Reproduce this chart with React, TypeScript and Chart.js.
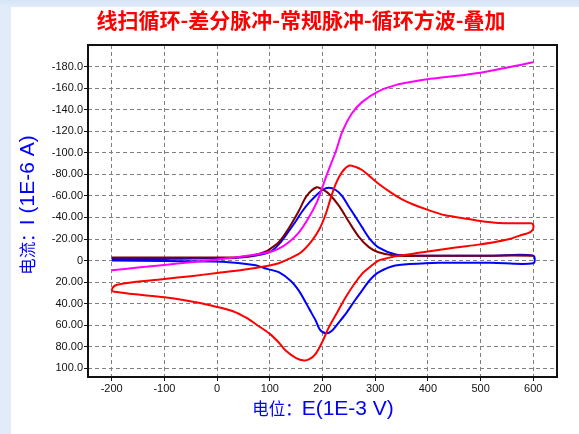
import React, { useEffect, useRef } from 'react';
import { Chart, registerables } from 'chart.js';

Chart.register(...registerables);

const TITLE = '线扫循环-差分脉冲-常规脉冲-循环方波-叠加';
const X_TITLE_CN = '电位：';
const X_TITLE_EN = 'E(1E-3 V)';
const Y_TITLE_CN = '电流：';
const Y_TITLE_EN = 'I (1E-6 A)';

const xTickValues = [-200, -100, 0, 100, 200, 300, 400, 500, 600];
const yTickValues = [-180, -160, -140, -120, -100, -80, -60, -40, -20, 0, 20, 40, 60, 80, 100];
const yTickLabels = ['-180.0', '-160.0', '-140.0', '-120.0', '-100.0', '-80.00', '-60.00', '-40.00', '-20.00', '0', '20.00', '40.00', '60.00', '80.00', '100.0'];

// Linear sweep (magenta)
const magentaE = [-200, -150, -100, -50, 0, 50, 100, 117, 136, 155, 174, 190, 199, 210, 225, 238, 255, 275, 306, 340, 370, 395, 430, 465, 496, 530, 560, 580, 600];
const magentaI = [9, 6.5, 4, 1.5, -1, -4, -8, -11, -17, -26, -40, -55, -67, -82, -101, -120, -136, -147, -157, -163, -166, -168, -170, -172, -174, -177, -180, -182, -184];

// Differential pulse (dark red)
const brownE = [-200, -100, 0, 40, 70, 95, 104, 117, 136, 155, 170, 189, 200, 212, 231, 250, 269, 288, 306, 338, 380, 450, 520, 600];
const brownI = [-2.8, -2.8, -2.8, -3.2, -5, -9, -12, -17, -30, -46, -60, -68, -66, -62, -51, -36, -22, -12.5, -7.7, -4.6, -4.4, -4.5, -4.6, -4.6];

// Cyclic voltammetry (blue): forward then reverse
const blueE = [-200, -100, -71, 0, 50, 99, 117, 137, 150, 162, 175, 187, 200, 212, 225, 237, 250, 262, 275, 290, 307, 339, 378, 450, 520, 600,
  600, 520, 420, 395, 338, 307, 290, 275, 260, 244, 230, 218, 207, 195, 187, 175, 165, 155, 140, 117, 95, 70, 10, -100, -200];
const blueI = [-1.5, -1.5, -1.8, -2, -3, -7.7, -15, -28, -37, -46, -54, -60, -65.5, -67.5, -65.5, -60, -50, -41, -31, -20, -12, -5.6, -4.6, -4.6, -4.6, -4.6,
  2.5, 2, 2, 2.5, 4.6, 10.8, 18, 27.8, 38, 49.5, 58, 65, 67.5, 64, 55.6, 45, 36, 27.8, 19, 10.8, 7.7, 4, 1, 0.5, 0];

// Cyclic square wave loop (red)
const redE = [-200, -198, -190, -160, -100, -50, 0, 50, 100, 117, 136, 160, 180, 195, 206, 215, 225, 237, 250, 262, 275, 290, 307, 330, 350, 370, 400, 433, 465, 496, 520, 546, 596, 600, 600, 597, 590, 584, 570, 559, 530, 496, 465, 433, 400, 370, 344, 325, 306, 290, 275, 260, 244, 228, 212, 200, 187, 175, 165, 150, 130, 117, 100, 75, 55, 30, 0, -30, -70, -100, -160, -195, -200];
const redI = [28, 25, 22.5, 20, 17, 14.5, 11.5, 8.5, 4.5, 2.5, -1.5, -8, -18.5, -30, -43, -57, -71, -82, -88, -87, -84, -78, -71, -63, -57, -52.5, -47, -42, -39.5, -37, -35.5, -34.6, -34.6, -33, -30, -27.5, -25.5, -24.7, -22.5, -20.5, -17.5, -14.8, -12.8, -10.8, -8.5, -6.2, -4.5, -2.5, 0, 6, 12.3, 22, 34, 48, 62, 75, 86.5, 91.5, 92.7, 90.5, 83.5, 76, 68, 59.5, 53, 47, 43, 39.5, 36, 34, 31, 29, 28];

const zip = (xs: number[], ys: number[]) => xs.map((x, i) => ({ x, y: ys[i] }));

const LATIN = '"Liberation Sans", Arial, sans-serif';
const CJK = '"Noto Sans CJK SC", sans-serif';

function drawMixed(ctx: CanvasRenderingContext2D, cn: string, en: string, cx: number, cy: number) {
  const cnFont = `16.5px ${CJK}`;
  const enFont = `21px ${LATIN}`;
  ctx.font = cnFont;
  const w1 = ctx.measureText(cn).width;
  ctx.font = enFont;
  const w2 = ctx.measureText(en).width;
  let x = cx - (w1 + w2) / 2;
  ctx.textAlign = 'left';
  ctx.textBaseline = 'alphabetic';
  ctx.fillStyle = '#0000ff';
  ctx.font = cnFont;
  ctx.fillText(cn, x, cy + 7.5);
  x += w1;
  ctx.font = enFont;
  ctx.fillText(en, x, cy + 7.5);
}

const decorPlugin = {
  id: 'decor',
  afterDraw(chart: any) {
    const { ctx, chartArea: a } = chart;
    ctx.save();
    ctx.strokeStyle = '#111';
    ctx.lineWidth = 2;
    ctx.strokeRect(a.left, a.top, a.right - a.left, a.bottom - a.top);
    ctx.fillStyle = '#ff0000';
    ctx.font = `bold 21px ${CJK}`;
    ctx.textAlign = 'center';
    ctx.textBaseline = 'middle';
    ctx.fillText(TITLE, 301, 20);
    drawMixed(ctx, X_TITLE_CN, X_TITLE_EN, 323, 407);
    ctx.translate(26, 205);
    ctx.rotate(-Math.PI / 2);
    drawMixed(ctx, Y_TITLE_CN, Y_TITLE_EN, 0, 0);
    ctx.restore();
  },
};

export default function App() {
  const ref = useRef<HTMLCanvasElement | null>(null);
  useEffect(() => {
    if (!ref.current) return;
    const line = (data: any, color: string, order: number) => ({
      data,
      borderColor: color,
      backgroundColor: color,
      borderWidth: 2,
      pointRadius: 0,
      showLine: true,
      tension: 0.3,
      fill: false,
      order,
    });
    const chart = new Chart(ref.current, {
      type: 'scatter',
      data: {
        datasets: [
          line(zip(redE, redI), '#ff0000', 0),
          line(zip(magentaE, magentaI), '#ff00ff', 1),
          line(zip(brownE, brownI), '#800000', 2),
          line(zip(blueE, blueI), '#0000ff', 3),
        ],
      },
      options: {
        animation: false,
        responsive: false,
        events: [],
        layout: { padding: { top: 45, left: 11, right: 22, bottom: 0 } },
        plugins: { legend: { display: false }, tooltip: { enabled: false }, title: { display: false } },
        scales: {
          x: {
            type: 'linear',
            min: -245,
            max: 645,
            afterBuildTicks: (s: any) => { s.ticks = xTickValues.map((v) => ({ value: v })); },
            afterFit: (s: any) => { s.height = 57; },
            ticks: { color: '#111', font: { family: LATIN, size: 11 }, padding: 1, maxRotation: 0, autoSkip: false },
            grid: { color: '#808080', lineWidth: 1, tickLength: 4, tickColor: '#111' },
            border: { display: false, dash: [4, 3] },
          },
          y: {
            type: 'linear',
            reverse: true,
            min: -200,
            max: 108,
            afterBuildTicks: (s: any) => { s.ticks = yTickValues.map((v) => ({ value: v })); },
            afterFit: (s: any) => { s.width = 77; },
            ticks: {
              color: '#111',
              font: { family: LATIN, size: 11 },
              padding: 1,
              autoSkip: false,
              callback: (v: any) => {
                const i = yTickValues.indexOf(Number(v));
                return i >= 0 ? yTickLabels[i] : '';
              },
            },
            grid: { color: '#808080', lineWidth: 1, tickLength: 4, tickColor: '#111' },
            border: { display: false, dash: [4, 3] },
          },
        },
      },
      plugins: [decorPlugin],
    });
    return () => chart.destroy();
  }, []);

  return (
    <div style={{ position: 'fixed', left: 0, top: 0, width: 579, height: 434, background: 'linear-gradient(180deg, #d6e4f6 0px, #e2ecf9 7px, #e2ecf9 100%)' }}>
      <div style={{ position: 'absolute', left: 11, top: 7, width: 568, height: 427, background: '#ffffff' }} />
      <canvas ref={ref} width={579} height={434} style={{ position: 'absolute', left: 0, top: 0, width: 579, height: 434 }} />
    </div>
  );
}
